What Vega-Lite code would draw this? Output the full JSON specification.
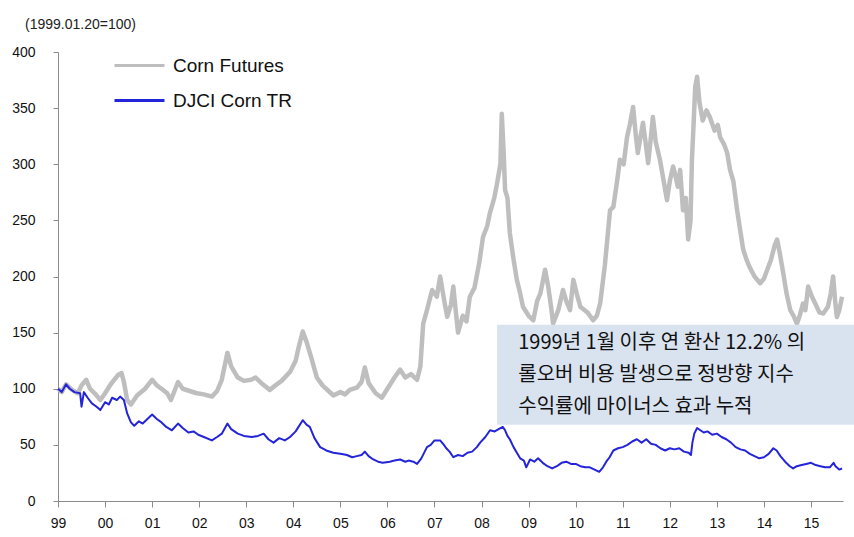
{
  "$schema": "https://vega.github.io/schema/vega-lite/v6.json",
  "width": 785,
  "height": 449,
  "autosize": {"type": "none"},
  "padding": {"left": 58, "top": 52, "right": 11, "bottom": 36},
  "background": "white",
  "title": {
    "text": "(1999.01.20=100)",
    "anchor": "start",
    "frame": "group",
    "dx": -33,
    "offset": 2,
    "baseline": "alphabetic",
    "font": "Liberation Sans",
    "fontSize": 14,
    "fontWeight": "normal",
    "color": "#222222"
  },
  "config": {
    "view": {"stroke": null},
    "axis": {
      "labelFont": "Liberation Sans",
      "labelFontSize": 14,
      "labelColor": "#111111",
      "domainColor": "#8c8c8c",
      "tickColor": "#8c8c8c",
      "grid": false,
      "title": null
    }
  },
  "datasets": {
    "corn": [
      {"t":1999.00,"v":100},{"t":1999.08,"v":97},{"t":1999.17,"v":104},{"t":1999.30,"v":99},{"t":1999.42,"v":96},{"t":1999.50,"v":103},{"t":1999.60,"v":108},{"t":1999.68,"v":100},{"t":1999.80,"v":95},{"t":1999.90,"v":90},
      {"t":2000.00,"v":96},{"t":2000.12,"v":104},{"t":2000.27,"v":112},{"t":2000.35,"v":114},{"t":2000.40,"v":106},{"t":2000.47,"v":90},{"t":2000.55,"v":86},{"t":2000.68,"v":94},{"t":2000.85,"v":100},
      {"t":2001.00,"v":108},{"t":2001.10,"v":103},{"t":2001.20,"v":100},{"t":2001.32,"v":96},{"t":2001.40,"v":90},{"t":2001.55,"v":106},{"t":2001.65,"v":100},{"t":2001.80,"v":98},{"t":2001.95,"v":96},
      {"t":2002.10,"v":95},{"t":2002.27,"v":93},{"t":2002.38,"v":98},{"t":2002.48,"v":108},{"t":2002.60,"v":132},{"t":2002.68,"v":120},{"t":2002.82,"v":110},{"t":2002.95,"v":107},
      {"t":2003.10,"v":108},{"t":2003.20,"v":110},{"t":2003.35,"v":104},{"t":2003.50,"v":99},{"t":2003.62,"v":103},{"t":2003.75,"v":107},{"t":2003.93,"v":115},
      {"t":2004.05,"v":125},{"t":2004.12,"v":138},{"t":2004.20,"v":151},{"t":2004.28,"v":142},{"t":2004.38,"v":128},{"t":2004.50,"v":110},{"t":2004.62,"v":103},{"t":2004.75,"v":98},{"t":2004.85,"v":94},
      {"t":2005.00,"v":97},{"t":2005.10,"v":95},{"t":2005.20,"v":99},{"t":2005.35,"v":101},{"t":2005.45,"v":106},{"t":2005.52,"v":119},{"t":2005.60,"v":105},{"t":2005.75,"v":96},{"t":2005.88,"v":92},
      {"t":2006.00,"v":100},{"t":2006.15,"v":110},{"t":2006.27,"v":117},{"t":2006.38,"v":110},{"t":2006.50,"v":113},{"t":2006.63,"v":108},{"t":2006.70,"v":120},{"t":2006.76,"v":158},{"t":2006.84,"v":170},{"t":2006.95,"v":188},
      {"t":2007.05,"v":182},{"t":2007.12,"v":200},{"t":2007.20,"v":180},{"t":2007.27,"v":164},{"t":2007.35,"v":175},{"t":2007.40,"v":191},{"t":2007.45,"v":170},{"t":2007.50,"v":150},{"t":2007.60,"v":165},{"t":2007.68,"v":160},{"t":2007.75,"v":182},{"t":2007.85,"v":190},{"t":2007.95,"v":212},
      {"t":2008.03,"v":235},{"t":2008.12,"v":245},{"t":2008.18,"v":257},{"t":2008.27,"v":270},{"t":2008.33,"v":283},{"t":2008.40,"v":300},{"t":2008.43,"v":345},{"t":2008.47,"v":310},{"t":2008.50,"v":277},{"t":2008.55,"v":270},{"t":2008.60,"v":239},{"t":2008.68,"v":215},{"t":2008.75,"v":197},{"t":2008.82,"v":185},{"t":2008.88,"v":173},
      {"t":2009.00,"v":165},{"t":2009.10,"v":161},{"t":2009.18,"v":178},{"t":2009.25,"v":185},{"t":2009.35,"v":206},{"t":2009.42,"v":190},{"t":2009.48,"v":172},{"t":2009.52,"v":158},{"t":2009.63,"v":170},{"t":2009.73,"v":188},{"t":2009.80,"v":178},{"t":2009.88,"v":170},{"t":2009.95,"v":197},
      {"t":2010.02,"v":185},{"t":2010.10,"v":173},{"t":2010.25,"v":168},{"t":2010.37,"v":161},{"t":2010.45,"v":165},{"t":2010.52,"v":176},{"t":2010.62,"v":210},{"t":2010.73,"v":259},{"t":2010.80,"v":262},{"t":2010.88,"v":285},{"t":2010.94,"v":304},
      {"t":2011.02,"v":300},{"t":2011.09,"v":324},{"t":2011.15,"v":335},{"t":2011.22,"v":351},{"t":2011.28,"v":325},{"t":2011.32,"v":310},{"t":2011.38,"v":325},{"t":2011.43,"v":337},{"t":2011.49,"v":318},{"t":2011.54,"v":301},{"t":2011.60,"v":325},{"t":2011.64,"v":342},{"t":2011.70,"v":320},{"t":2011.79,"v":304},{"t":2011.87,"v":285},{"t":2011.94,"v":268},
      {"t":2012.00,"v":285},{"t":2012.07,"v":298},{"t":2012.12,"v":290},{"t":2012.17,"v":280},{"t":2012.22,"v":295},{"t":2012.28,"v":259},{"t":2012.34,"v":270},{"t":2012.39,"v":233},{"t":2012.44,"v":250},{"t":2012.47,"v":304},{"t":2012.51,"v":340},{"t":2012.54,"v":369},{"t":2012.58,"v":378},{"t":2012.63,"v":355},{"t":2012.70,"v":339},{"t":2012.78,"v":348},{"t":2012.85,"v":342},{"t":2012.95,"v":330},
      {"t":2013.02,"v":335},{"t":2013.07,"v":324},{"t":2013.15,"v":318},{"t":2013.22,"v":310},{"t":2013.28,"v":295},{"t":2013.35,"v":285},{"t":2013.43,"v":259},{"t":2013.50,"v":240},{"t":2013.56,"v":224},{"t":2013.63,"v":215},{"t":2013.70,"v":208},{"t":2013.80,"v":200},{"t":2013.92,"v":194},
      {"t":2014.00,"v":198},{"t":2014.07,"v":206},{"t":2014.15,"v":215},{"t":2014.23,"v":228},{"t":2014.28,"v":233},{"t":2014.34,"v":220},{"t":2014.41,"v":203},{"t":2014.48,"v":185},{"t":2014.56,"v":170},{"t":2014.63,"v":165},{"t":2014.70,"v":158},{"t":2014.76,"v":165},{"t":2014.83,"v":176},{"t":2014.88,"v":170},{"t":2014.94,"v":191},
      {"t":2015.02,"v":182},{"t":2015.09,"v":176},{"t":2015.18,"v":168},{"t":2015.26,"v":167},{"t":2015.36,"v":173},{"t":2015.42,"v":185},{"t":2015.47,"v":200},{"t":2015.52,"v":175},{"t":2015.55,"v":164},{"t":2015.60,"v":170},{"t":2015.66,"v":182}
    ],
    "djci": [
      {"t":1999.00,"v":100},{"t":1999.08,"v":97},{"t":1999.17,"v":104},{"t":1999.25,"v":100},{"t":1999.35,"v":97},{"t":1999.47,"v":96},{"t":1999.50,"v":84},{"t":1999.55,"v":97},{"t":1999.63,"v":92},{"t":1999.72,"v":87},{"t":1999.82,"v":84},{"t":1999.90,"v":81},
      {"t":2000.00,"v":88},{"t":2000.08,"v":86},{"t":2000.15,"v":92},{"t":2000.25,"v":90},{"t":2000.32,"v":93},{"t":2000.40,"v":90},{"t":2000.47,"v":78},{"t":2000.55,"v":70},{"t":2000.62,"v":67},{"t":2000.72,"v":71},{"t":2000.80,"v":69},{"t":2000.90,"v":73},
      {"t":2001.00,"v":77},{"t":2001.10,"v":73},{"t":2001.20,"v":70},{"t":2001.30,"v":66},{"t":2001.42,"v":63},{"t":2001.55,"v":69},{"t":2001.65,"v":65},{"t":2001.77,"v":61},{"t":2001.88,"v":62},{"t":2001.98,"v":59},
      {"t":2002.10,"v":57},{"t":2002.27,"v":54},{"t":2002.38,"v":57},{"t":2002.48,"v":60},{"t":2002.60,"v":69},{"t":2002.68,"v":64},{"t":2002.82,"v":60},{"t":2002.95,"v":58},
      {"t":2003.12,"v":57},{"t":2003.25,"v":58},{"t":2003.37,"v":60},{"t":2003.47,"v":55},{"t":2003.58,"v":52},{"t":2003.70,"v":56},{"t":2003.82,"v":54},{"t":2003.93,"v":57},
      {"t":2004.05,"v":62},{"t":2004.20,"v":72},{"t":2004.28,"v":68},{"t":2004.35,"v":66},{"t":2004.45,"v":56},{"t":2004.57,"v":48},{"t":2004.70,"v":45},{"t":2004.85,"v":43},
      {"t":2005.00,"v":42},{"t":2005.14,"v":41},{"t":2005.25,"v":39},{"t":2005.35,"v":40},{"t":2005.45,"v":41},{"t":2005.52,"v":44},{"t":2005.60,"v":40},{"t":2005.70,"v":37},{"t":2005.80,"v":35},{"t":2005.90,"v":34},
      {"t":2006.05,"v":35},{"t":2006.15,"v":36},{"t":2006.27,"v":37},{"t":2006.38,"v":35},{"t":2006.45,"v":36},{"t":2006.55,"v":35},{"t":2006.63,"v":33},{"t":2006.72,"v":38},{"t":2006.84,"v":48},{"t":2006.92,"v":50},
      {"t":2007.00,"v":54},{"t":2007.12,"v":54},{"t":2007.20,"v":50},{"t":2007.25,"v":47},{"t":2007.32,"v":44},{"t":2007.40,"v":39},{"t":2007.50,"v":41},{"t":2007.60,"v":40},{"t":2007.70,"v":43},{"t":2007.80,"v":44},{"t":2007.90,"v":48},{"t":2007.97,"v":52},
      {"t":2008.08,"v":57},{"t":2008.18,"v":63},{"t":2008.28,"v":62},{"t":2008.40,"v":65},{"t":2008.45,"v":66},{"t":2008.50,"v":63},{"t":2008.55,"v":58},{"t":2008.60,"v":55},{"t":2008.68,"v":48},{"t":2008.75,"v":43},{"t":2008.82,"v":38},{"t":2008.90,"v":36},{"t":2008.95,"v":30},
      {"t":2009.03,"v":37},{"t":2009.12,"v":35},{"t":2009.20,"v":38},{"t":2009.30,"v":34},{"t":2009.40,"v":31},{"t":2009.50,"v":29},{"t":2009.60,"v":31},{"t":2009.70,"v":34},{"t":2009.80,"v":35},{"t":2009.90,"v":33},
      {"t":2010.00,"v":33},{"t":2010.10,"v":31},{"t":2010.20,"v":30},{"t":2010.30,"v":30},{"t":2010.40,"v":28},{"t":2010.50,"v":26},{"t":2010.58,"v":30},{"t":2010.65,"v":35},{"t":2010.72,"v":39},{"t":2010.80,"v":45},{"t":2010.90,"v":47},
      {"t":2011.00,"v":48},{"t":2011.10,"v":50},{"t":2011.20,"v":53},{"t":2011.30,"v":55},{"t":2011.40,"v":52},{"t":2011.50,"v":55},{"t":2011.60,"v":51},{"t":2011.70,"v":50},{"t":2011.80,"v":47},{"t":2011.90,"v":45},
      {"t":2012.00,"v":47},{"t":2012.10,"v":46},{"t":2012.20,"v":47},{"t":2012.30,"v":44},{"t":2012.40,"v":43},{"t":2012.45,"v":41},{"t":2012.48,"v":52},{"t":2012.52,"v":60},{"t":2012.58,"v":65},{"t":2012.65,"v":63},{"t":2012.72,"v":61},{"t":2012.80,"v":62},{"t":2012.90,"v":59},
      {"t":2013.00,"v":60},{"t":2013.10,"v":57},{"t":2013.20,"v":55},{"t":2013.30,"v":52},{"t":2013.40,"v":48},{"t":2013.50,"v":46},{"t":2013.60,"v":45},{"t":2013.70,"v":42},{"t":2013.80,"v":40},{"t":2013.90,"v":38},
      {"t":2014.00,"v":39},{"t":2014.10,"v":42},{"t":2014.20,"v":47},{"t":2014.27,"v":45},{"t":2014.35,"v":40},{"t":2014.45,"v":35},{"t":2014.55,"v":31},{"t":2014.62,"v":29},{"t":2014.70,"v":31},{"t":2014.80,"v":32},{"t":2014.90,"v":33},
      {"t":2015.00,"v":34},{"t":2015.10,"v":32},{"t":2015.20,"v":31},{"t":2015.30,"v":30},{"t":2015.40,"v":30},{"t":2015.48,"v":34},{"t":2015.52,"v":31},{"t":2015.60,"v":28},{"t":2015.66,"v":29}
    ],
    "note": [
      {"x1": 2008.33, "x2": 2015.92, "y1": 68, "y2": 157, "tx": 2008.78, "ty": 150, "text": "1999년 1월 이후  연 환산 12.2% 의\n롤오버 비용 발생으로 정방향 지수\n수익률에 마이너스 효과 누적"}
    ]
  },
  "encoding": {
    "x": {
      "field": "t",
      "type": "quantitative",
      "scale": {"domain": [1999, 2015.68], "nice": false, "zero": false},
      "axis": {
        "values": [1999,2000,2001,2002,2003,2004,2005,2006,2007,2008,2009,2010,2011,2012,2013,2014,2015],
        "labelExpr": "slice(toString(datum.value), 2)",
        "tickSize": 6,
        "labelPadding": 9,
        "labelFlush": false,
        "labelOverlap": false
      }
    },
    "y": {
      "field": "v",
      "type": "quantitative",
      "scale": {"domain": [0, 400], "nice": false},
      "axis": {
        "values": [0,50,100,150,200,250,300,350,400],
        "tickSize": 5,
        "labelPadding": 18,
        "labelFlush": false
      }
    }
  },
  "layer": [
    {
      "data": {"name": "corn"},
      "mark": {"type": "line", "strokeWidth": 4.5, "strokeJoin": "round"},
      "encoding": {
        "color": {
          "datum": "Corn Futures",
          "type": "nominal",
          "scale": {"domain": ["Corn Futures", "DJCI Corn TR"], "range": ["#bebebe", "#2424d8"]},
          "legend": {
            "title": null,
            "orient": "none",
            "legendX": 70,
            "legendY": 2,
            "padding": 0,
            "symbolType": "M-2.5,0H2.5",
            "symbolSize": 400,
            "symbolStrokeWidth": 3,
            "labelOffset": 22,
            "rowPadding": 13,
            "labelFont": "Liberation Sans",
            "labelFontSize": 19,
            "labelColor": "#111111"
          }
        }
      }
    },
    {
      "data": {"name": "djci"},
      "mark": {"type": "line", "strokeWidth": 2, "strokeJoin": "round"},
      "encoding": {
        "color": {"datum": "DJCI Corn TR", "type": "nominal"}
      }
    },
    {
      "data": {"name": "note"},
      "mark": {"type": "rect", "fill": "#d9e3ef", "clip": false},
      "encoding": {
        "x": {"field": "x1", "type": "quantitative"},
        "x2": {"field": "x2"},
        "y": {"field": "y1", "type": "quantitative"},
        "y2": {"field": "y2"}
      }
    },
    {
      "data": {"name": "note"},
      "mark": {
        "type": "text",
        "align": "left",
        "baseline": "top",
        "lineBreak": "\n",
        "lineHeight": 32,
        "font": "Noto Sans CJK KR",
        "fontSize": 20,
        "color": "#111111"
      },
      "encoding": {
        "x": {"field": "tx", "type": "quantitative"},
        "y": {"field": "ty", "type": "quantitative"},
        "text": {"field": "text"}
      }
    }
  ]
}
